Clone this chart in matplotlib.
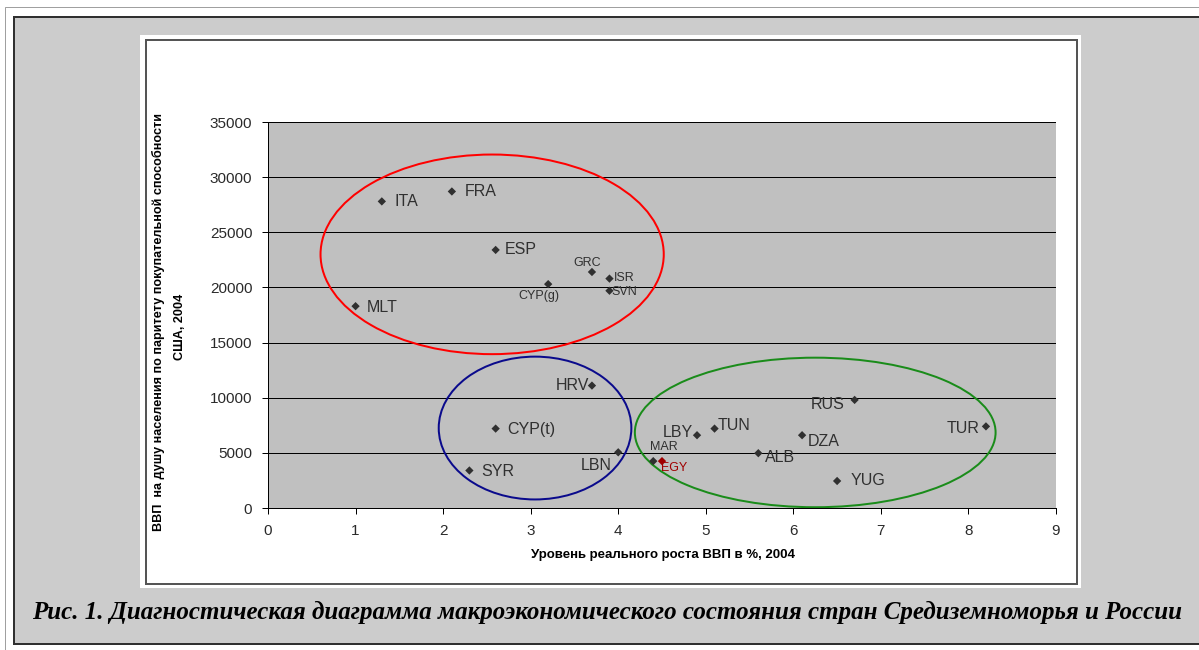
import matplotlib.pyplot as plt
from matplotlib.patches import Ellipse, Rectangle

# data
countries = ['ITA', 'FRA', 'ESP', 'GRC', 'ISR', 'SVN', 'CYP(g)', 'MLT',
             'HRV', 'CYP(t)', 'SYR', 'LBN', 'MAR', 'EGY', 'LBY', 'TUN',
             'RUS', 'DZA', 'ALB', 'YUG', 'TUR']
growth = [1.3, 2.1, 2.6, 3.7, 3.9, 3.9, 3.2, 1.0,
          3.7, 2.6, 2.3, 4.0, 4.4, 4.5, 4.9, 5.1,
          6.7, 6.1, 5.6, 6.5, 8.2]
gdp = [27800, 28700, 23400, 21400, 20800, 19700, 20300, 18300,
       11100, 7200, 3400, 5050, 4250, 4250, 6600, 7200,
       9800, 6600, 4970, 2450, 7400]

xticks = list(range(0, 10))
yticks = list(range(0, 35001, 5000))

xlabel = 'Уровень реального роста ВВП в %, 2004'
ylabel1 = 'ВВП  на душу населения по паритету покупательной способности'
ylabel2 = 'США, 2004'
caption = ('Рис. 1. Диагностическая диаграмма макроэкономического '
           'состояния стран Средиземноморья и России')

# label placement: (dx px, dy px, ha, small?)
lab = {
    'ITA': (13, 0, 'left', False), 'FRA': (13, 0, 'left', False),
    'ESP': (9, 0, 'left', False), 'GRC': (-5, 9, 'center', True),
    'ISR': (4, 1, 'left', True), 'SVN': (2, -1, 'left', True),
    'CYP(g)': (-9, -12, 'center', True), 'MLT': (11, -1, 'left', False),
    'HRV': (-3, 0, 'right', False), 'CYP(t)': (12, -1, 'left', False),
    'SYR': (12, -1, 'left', False), 'LBN': (-7, -13, 'right', False),
    'MAR': (-3, 14, 'left', True), 'EGY': (-1, -7, 'left', True),
    'LBY': (-4, 3, 'right', False), 'TUN': (3, 3, 'left', False),
    'RUS': (-10, -5, 'right', False), 'DZA': (6, -6, 'left', False),
    'ALB': (7, -4, 'left', False), 'YUG': (13, 0, 'left', False),
    'TUR': (-6, -2, 'right', False),
}

W, H = 1199, 650
fig = plt.figure(figsize=(W / 100, H / 100), dpi=100)
fig.patch.set_facecolor('white')


def box(x0, y0, x1, y1, **kw):
    r = Rectangle((x0 / W, 1 - y1 / H), (x1 - x0) / W, (y1 - y0) / H,
                  transform=fig.transFigure, zorder=-5, **kw)
    fig.add_artist(r)


px = 0.72
box(5, 7, 1210, 700, facecolor='none', edgecolor='#a0a0a0', lw=px)
box(14, 17, 1210, 644, facecolor='#cccccc', edgecolor='#303030', lw=2 * px)
box(140, 35, 1081, 588, facecolor='white', edgecolor='none')
box(146, 40, 1077, 584, facecolor='white', edgecolor='#555555', lw=2 * px)

ax = fig.add_axes([268 / W, 1 - 508 / H, (1056 - 268) / W, (508 - 122) / H])
ax.set_zorder(5)
ax.set_facecolor('#c0c0c0')
ax.set_xlim(0, 9)
ax.set_ylim(0, 35000)
ax.set_xticks(xticks)
ax.set_yticks(yticks)
ax.yaxis.grid(True, color='black', lw=px)
ax.set_axisbelow(True)
for s in ['top', 'right']:
    ax.spines[s].set_visible(False)
for s in ['left', 'bottom']:
    ax.spines[s].set_linewidth(px)
ax.tick_params(direction='out', length=6 * px, width=px, colors='black',
               labelsize=11, labelcolor='#2a2a2a')
ax.tick_params(axis='x', pad=7)
ax.tick_params(axis='y', pad=7)
for t in ax.get_xticklabels() + ax.get_yticklabels():
    t.set_fontfamily('Liberation Sans')

cols = ['#a00000' if c == 'EGY' else '#303030' for c in countries]
ax.scatter(growth, gdp, marker='D', s=18, c=cols, zorder=3, lw=0)

for c, x, y in zip(countries, growth, gdp):
    dx, dy, ha, small = lab[c]
    ax.annotate(c, (x, y), xytext=(dx, dy), textcoords='offset pixels',
                ha=ha, va='center', fontsize=9 if small else 11.5,
                family='Liberation Sans',
                color='#a00000' if c == 'EGY' else '#303030', zorder=4)

ax.add_patch(Ellipse((2.56, 23000), 3.92, 18100, fill=False,
                     edgecolor='#ff0000', lw=2 * px, zorder=2))
ax.add_patch(Ellipse((3.05, 7250), 2.2, 12950, fill=False,
                     edgecolor='#0a0a8c', lw=2 * px, zorder=2))
ax.add_patch(Ellipse((6.25, 6850), 4.12, 13560, fill=False,
                     edgecolor='#1a8c1a', lw=2 * px, zorder=2, clip_on=False))

fig.text(663 / W, 1 - 555 / H, xlabel, ha='center', va='center',
         fontsize=9.5, fontweight='bold', family='Liberation Sans')
fig.text(158 / W, 1 - 322 / H, ylabel1, ha='center', va='center',
         rotation=90, fontsize=9.1, fontweight='bold', family='Liberation Sans')
fig.text(180 / W, 1 - 327 / H, ylabel2, ha='center', va='center',
         rotation=90, fontsize=9.1, fontweight='bold', family='Liberation Sans')

fig.text(607 / W, 1 - 612 / H, caption, ha='center', va='center',
         fontsize=18, fontweight='bold', fontstyle='italic',
         family='Liberation Serif')

fig.savefig('out.png', dpi=100)
